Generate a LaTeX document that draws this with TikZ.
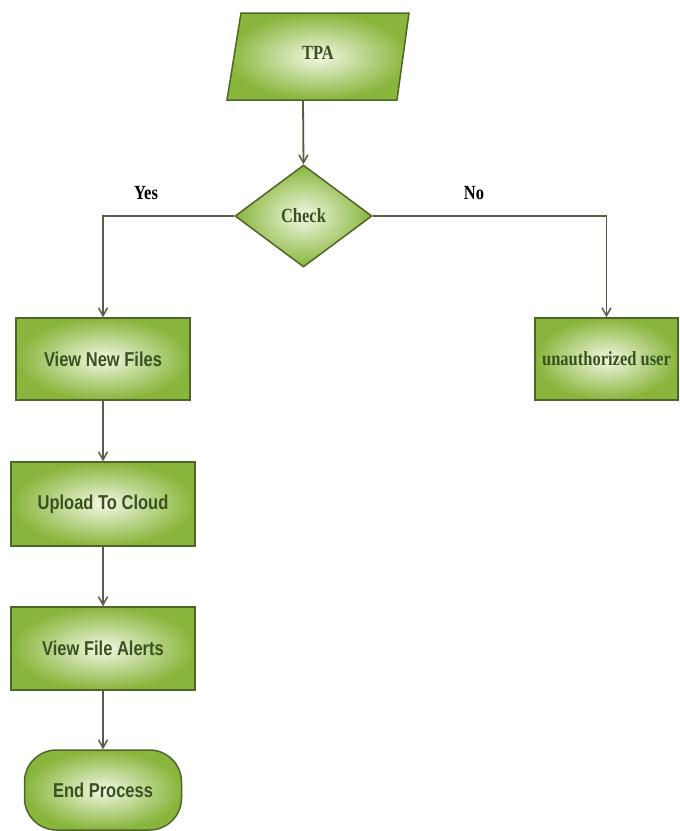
\documentclass[tikz,border=0pt]{standalone}
\usepackage{fontspec}
\setmainfont{Liberation Serif}
\setsansfont{Liberation Sans}
\usetikzlibrary{shapes.geometric,arrows.meta}
\definecolor{fillout}{HTML}{88B53B}
\definecolor{fillin}{HTML}{F2F8E4}
\definecolor{bord}{HTML}{4F6629}
\definecolor{txt}{HTML}{3B5220}
\definecolor{conn}{HTML}{5C5C44}
\newcommand{\tallt}[1]{\scalebox{0.97}[1.18]{#1}}
\tikzset{
  greenfill/.style={shading=radial, inner color=fillin, outer color=fillout, draw=bord, line width=1.5pt},
  procbox/.style={greenfill, rectangle, inner sep=0pt, text=txt,
    font=\sffamily\bfseries\fontsize{17}{20}\selectfont},
  endbox/.style={procbox, rounded corners=32pt},
  serbox/.style={greenfill, inner sep=0pt, text=txt,
    font=\rmfamily\bfseries\fontsize{17}{20}\selectfont},
  lbl/.style={inner sep=0pt, text=black, font=\rmfamily\bfseries\fontsize{17}{20}\selectfont},
  conn/.style={draw=conn, line width=1.8pt, -{Straight Barb[length=8pt,width=9pt,line width=1.5pt]}}
}
\begin{document}
\begin{tikzpicture}[x=1pt,y=-1pt]
\useasboundingbox[fill=white] (0,0) rectangle (680,831);
% TPA parallelogram
\shade[inner color=fillin, outer color=fillout, draw=bord, line width=1.5pt]
  (241,13) -- (409,13) -- (397,100) -- (227,100) -- cycle;
\node[inner sep=0pt, text=txt, font=\rmfamily\bfseries\fontsize{17}{20}\selectfont] (tpa) at (318,53) {\tallt{TPA}};
\coordinate (tpab) at (303,100);
% decision
\node[serbox, diamond, minimum width=137pt, minimum height=102pt, aspect=1.34] (chk) at (303.5,216) {\tallt{Check}};
% boxes
\node[procbox, minimum width=174pt, minimum height=82pt] (vnf) at (103,359) {\tallt{View New Files}};
\node[serbox, rectangle, minimum width=143pt, minimum height=82pt] (uu) at (606.5,359) {\tallt{unauthorized user}};
\node[procbox, minimum width=184pt, minimum height=84pt] (utc) at (103,504) {\tallt{Upload To Cloud}};
\node[procbox, minimum width=184pt, minimum height=83pt] (vfa) at (103,648.5) {\tallt{View File Alerts}};
\node[endbox, minimum width=157pt, minimum height=80pt] (endp) at (103,790) {\tallt{End Process}};
% labels
\node[lbl] (yes) at (146,193) {\tallt{Yes}};
\node[lbl] (no) at (474,193) {\tallt{No}};
% connectors
\draw[conn] (tpab) -- (chk.north);
\draw[conn] (chk.west) -| (vnf.north);
\draw[conn] (chk.east) -| (uu.north);
\draw[conn] (vnf.south) -- (utc.north);
\draw[conn] (utc.south) -- (vfa.north);
\draw[conn] (vfa.south) -- (endp.north);
\end{tikzpicture}
\end{document}
